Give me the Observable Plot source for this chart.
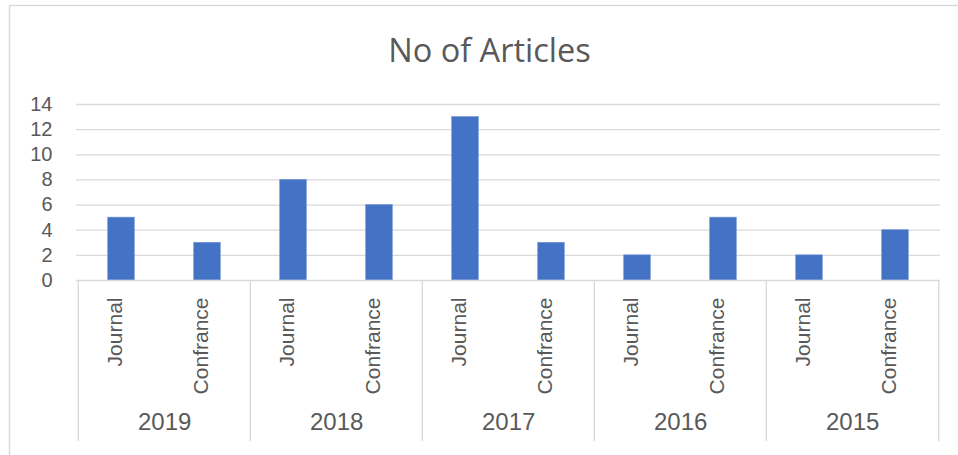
<!DOCTYPE html>
<html><head><meta charset="utf-8">
<script src="https://cdn.jsdelivr.net/npm/d3@7"></script>
<script src="https://cdn.jsdelivr.net/npm/@observablehq/plot@0.6"></script>
<style>html,body{margin:0;padding:0;background:#fff;overflow:hidden} svg{display:block}</style>
</head><body><div id="chart"></div>
<script>
const title = "No of Articles";
const years = ["2019", "2018", "2017", "2016", "2015"];
const types = ["Journal", "Confrance"];
const journal = [5, 8, 13, 2, 2];
const confrance = [3, 6, 3, 5, 4];
const yTicks = [0, 2, 4, 6, 8, 10, 12, 14];

const series = [journal, confrance];
const rows = years.flatMap((yr, i) => types.map((t, j) => ({year: yr, type: t, key: yr + "|" + t, value: series[j][i]})));

const W = 958, H = 455, mL = 76, mR = 18, mT = 104, mB = 175;
const step = (W - mL - mR) / rows.length;
const barW = 27;
const grey = "#d9d9d9";
const txt = "#595959";

const chart = Plot.plot({
  width: W, height: H,
  marginLeft: mL, marginRight: mR, marginTop: mT, marginBottom: mB,
  style: {fontFamily: "'Liberation Sans', Arial, sans-serif", color: txt, background: "#fff", overflow: "hidden"},
  x: {type: "band", domain: rows.map(d => d.key), padding: 0, axis: null},
  y: {domain: [0, 14], axis: null},
  marks: [
    Plot.frame({stroke: grey, strokeWidth: 1.4, insetLeft: -(mL - 9), insetTop: -(mT - 5), insetRight: -(mR + 20), insetBottom: -(mB + 20)}),
    Plot.ruleY(yTicks.filter(t => t > 0), {stroke: grey, strokeWidth: 1.3}),
    Plot.axisY(yTicks, {tickSize: 0, tickPadding: 24, fontSize: 20, fill: txt, label: null}),
    Plot.barY(rows, {x: "key", y: "value", fill: "#4472C4", stroke: "#6f94d6", strokeWidth: 0.6, insetLeft: (step - barW) / 2, insetRight: (step - barW) / 2}),
    Plot.ruleY([0], {stroke: grey, strokeWidth: 1.3}),
    Plot.ruleX(rows.filter(d => d.type === "Journal"), {x: "key", dx: -step / 2, stroke: grey, strokeWidth: 1.3, insetTop: H - mT - mB, insetBottom: -(441 - (H - mB))}),
    Plot.ruleX(rows.slice(-1), {x: "key", dx: step / 2, stroke: grey, strokeWidth: 1.3, insetTop: H - mT - mB, insetBottom: -(441 - (H - mB))}),
    Plot.text(rows, {x: "key", text: "type", rotate: -90, textAnchor: "end", frameAnchor: "bottom", dy: 17, fontSize: 21, fill: txt}),
    Plot.text(rows.filter(d => d.type === "Journal"), {x: "key", text: "year", dx: step / 2, frameAnchor: "bottom", dy: 149, fontSize: 24, fill: txt}),
    Plot.text([title], {text: d => d, frameAnchor: "top", dx: -19, dy: -66, fontSize: 32.5, fontFamily: "'Open Sans', sans-serif", fill: txt})
  ]
});
document.getElementById("chart").appendChild(chart);
</script>
</body></html>
